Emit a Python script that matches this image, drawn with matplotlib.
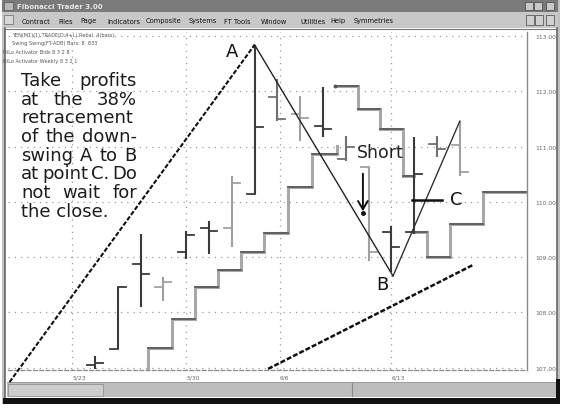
import matplotlib
matplotlib.use('Agg')
import matplotlib.pyplot as plt
from matplotlib.patches import Rectangle
import numpy as np

# ---------------- data ----------------
bar_idx = list(range(17))
opens  = [107.05, 107.34, 108.88, 108.46, 109.09, 109.53, 109.53, 110.14, 111.90, 111.59, 111.37, 110.78, 110.63, 109.46, 109.46, 111.05, 111.03]
highs  = [107.21, 108.46, 109.42, 108.64, 109.47, 109.65, 110.47, 112.84, 112.22, 111.92, 112.08, 111.19, 110.63, 109.56, 111.17, 111.19, 111.46]
lows   = [106.98, 107.34, 108.10, 108.21, 108.97, 109.06, 109.18, 110.14, 111.46, 111.10, 111.17, 110.74, 108.93, 108.73, 109.42, 110.81, 110.47]
closes = [107.09, 108.46, 108.70, 108.55, 109.40, 109.47, 110.34, 111.35, 111.50, 111.52, 111.32, 110.99, 109.09, 109.18, 110.50, 110.96, 110.54]
shade  = ['d', 'd', 'd', 'g', 'd', 'd', 'g', 'd', 'm', 'g', 'd', 'm', 'g', 'd', 'd', 'm', 'g']

# HiLo activator step lines (switch positions in bar units, levels)
long1_x = [2.32, 3.38, 4.39, 5.39, 6.40, 7.41, 8.46, 9.52, 10.61]
long1_y = [107.36, 107.88, 108.46, 108.77, 109.09, 109.44, 110.27, 110.87, 111.01]
short_x = [10.53, 11.54, 12.50, 13.50, 14.00]
short_y = [112.10, 111.68, 111.32, 110.47]
long2_x = [13.90, 14.56, 15.57, 17.00, 18.95]
long2_y = [109.46, 109.00, 109.60, 110.18]

# swing lines
swing_up   = ([-3.75, 7.0], [106.74, 112.84])
swing_AB   = ([7.0, 13.07], [112.84, 108.66])
swing_BC   = ([13.07, 16.0], [108.66, 111.46])
trend_line = ([7.59, 16.58], [106.98, 108.86])

x_ticks = [-1, 4, 8.1, 13]
x_labels = ['5/23', '5/30', '6/6', '6/13']
y_ticks = [107, 108, 109, 110, 111, 112, 113]

note_lines = ["Take profits", "at the 38%", "retracement", "of the down-",
              "swing A to B", "at point C. Do", "not wait for", "the close."]
header_lines = ["YEN(M1)(1) TRADE(D:4+L) Rebal. 4(bars)",
                "Swing Swing(FT-ADB) Bars: 8  833",
                "HiLo Activator Bids 8 3 2 8",
                "HiLo Activator Weekly 8 3 2 1"]
menu_items = [("Contract", 22), ("Files", 58), ("Page", 80), ("Indicators", 107),
              ("Composite", 146), ("Systems", 189), ("FT Tools", 224), ("Window", 261),
              ("Utilities", 300), ("Help", 330), ("Symmetries", 354)]

# ---------------- figure ----------------
W, H = 562, 410
fig = plt.figure(figsize=(W / 100, H / 100), dpi=100, facecolor='white')
bg = fig.add_axes([0, 0, 1, 1])
bg.set_xlim(0, W)
bg.set_ylim(H, 0)
bg.axis('off')

def rect(x, y, w, h, fc, ec='none', lw=0, z=1):
    bg.add_patch(Rectangle((x, y), w, h, facecolor=fc, edgecolor=ec, lw=lw, zorder=z))

# window chrome
rect(2, 0, 558, 405, '#c0c0c0')
rect(2, 1, 556, 12, '#7a7a7a', z=2)
rect(4, 3, 9, 8, '#b8b8b8', ec='#555', lw=0.5, z=3)
bg.text(17, 7.3, "Fibonacci Trader 3.00", fontsize=5, color='#e8e8e8', fontweight='bold', va='center', zorder=4)
for bx in (525, 534, 546):
    rect(bx, 2.5, 8, 8.5, '#c8c8c8', ec='#444', lw=0.5, z=3)
rect(2, 13, 556, 16, '#c8c8c8', z=2)
rect(4, 15.5, 9, 9, '#d8d8d8', ec='#666', lw=0.5, z=3)
for name, mx in menu_items:
    bg.text(mx, 21.5, name, fontsize=4.8, color='#111', va='center', zorder=4)
for bx in (526, 535, 546):
    rect(bx, 16, 8, 9.5, '#d0d0d0', ec='#444', lw=0.5, z=3)

# chart window
rect(5, 29, 552, 370, 'white', z=2)
bg.plot([5, 5], [29, 399], color='#666', lw=1.2, zorder=3)
bg.plot([5, 557], [29.5, 29.5], color='#777', lw=0.8, zorder=3)
bg.plot([557, 557], [29, 399], color='#666', lw=1.2, zorder=3)
# scrollbar
rect(7, 383, 549, 15, '#bdbdbd', z=3)
rect(8, 384.5, 95, 12, '#cdcdcd', ec='#8a8a8a', lw=0.5, z=4)
bg.plot([352, 352], [384, 397], color='#888', lw=0.8, zorder=4)
bg.plot([7, 556], [383, 383], color='#999', lw=0.6, zorder=4)
rect(3, 398.5, 557, 6.5, '#111', z=5)
rect(556, 380, 4, 25, '#111', z=5)

# header texts
for k, s in enumerate(header_lines):
    bg.text(12 if k < 2 else 3, 35 + 9 * k, s, fontsize=3.6, color='#555', va='center', zorder=6)

# ---------------- main chart axes ----------------
L, R, T, B = 8, 527, 33, 371
ax = fig.add_axes([L / W, (H - B) / H, (R - L) / W, (B - T) / H])
ax.set_facecolor('none')
ax.set_zorder(5)
ax.set_xlim(-3.816, 18.947)
ax.set_ylim(106.96, 113.072)

ax.set_xticks(x_ticks)
ax.set_xticklabels(x_labels)
ax.set_yticks(y_ticks)
ax.set_yticklabels(['%.2f' % v for v in y_ticks])
ax.yaxis.tick_right()
ax.tick_params(axis='both', length=0, labelsize=4.3, labelcolor='#666')
ax.tick_params(axis='y', pad=6)
ax.tick_params(axis='x', pad=3)
for lab in ax.get_xticklabels():
    lab.set_ha('left')
ax.grid(True, color='#9a9a9a', linestyle=(0, (1, 4)), lw=0.9)
ax.set_axisbelow(True)
for sp in ('top', 'left'):
    ax.spines[sp].set_visible(False)
ax.spines['right'].set_color('#8a8a8a')
ax.spines['right'].set_linewidth(1.0)
ax.spines['bottom'].set_color('#8a8a8a')
ax.spines['bottom'].set_linestyle((0, (3, 2)))
ax.spines['bottom'].set_linewidth(0.9)

colors = {'d': '#3a3a3a', 'g': '#a0a0a0', 'm': '#707070'}
tick = 0.35
for i, o, h, l, c, s in zip(bar_idx, opens, highs, lows, closes, shade):
    col = colors[s]
    ax.plot([i, i], [l, h], color=col, lw=1.5, solid_capstyle='butt', zorder=3)
    ax.plot([i - tick, i], [o, o], color=col, lw=1.3, zorder=3)
    ax.plot([i, i + tick], [c, c], color=col, lw=1.3, zorder=3)

def step_path(xs, ys, start_bottom=None):
    px, py = [], []
    if start_bottom is not None:
        px.append(xs[0]); py.append(start_bottom)
    for k, lev in enumerate(ys):
        px += [xs[k], xs[k + 1]]
        py += [lev, lev]
    return px, py

def draw_steps(xs, ys, start_bottom=None, tail=None):
    px, py = step_path(xs, ys, start_bottom)
    if tail is not None:
        px.append(px[-1]); py.append(tail)
    ax.plot(px, py, color='#a8a8a8', lw=2.2, zorder=2, solid_joinstyle='miter')
    for k, lev in enumerate(ys):
        ax.plot([xs[k], xs[k + 1]], [lev, lev], color='#555', lw=1.2, zorder=2.5)

# lower long stop: last listed level is the final up-tick
draw_steps(long1_x[:-1] + [long1_x[-1]], long1_y[:-1], start_bottom=106.96, tail=long1_y[-1])
draw_steps(short_x, short_y)
ax.plot([short_x[0]], [short_y[0]], marker='o', ms=1.8, color='#555', zorder=3)
draw_steps(long2_x, long2_y)

# swing lines
ax.plot(*swing_up, color='#111', lw=1.5, linestyle=(0, (2.2, 0.9)), clip_on=False, zorder=4)
ax.plot(*swing_AB, color='#222', lw=1.0, zorder=4)
ax.plot(*swing_BC, color='#333', lw=1.0, zorder=4)
ax.plot(*trend_line, color='#111', lw=1.8, linestyle=(0, (2.0, 0.8)), zorder=4)

# annotations
ax.text(6.0, 112.73, "A", fontsize=13, color='#111', ha='center', va='center', zorder=6)
ax.text(12.59, 108.52, "B", fontsize=13, color='#111', ha='center', va='center', zorder=6)
ax.text(15.57, 110.05, "C", fontsize=13, color='#111', ha='left', va='center', zorder=6)
ax.text(11.49, 110.90, "Short", fontsize=12.5, color='#222', ha='left', va='center', zorder=6)
ax.plot([13.9, 15.22], [110.03, 110.03], color='#111', lw=1.8, zorder=5)
ax.annotate('', xy=(11.75, 109.78), xytext=(11.75, 110.56),
            arrowprops=dict(arrowstyle='->,head_length=0.6,head_width=0.35', color='#111', lw=1.4),
            zorder=6)
ax.plot([11.75], [109.80], marker='o', ms=2.5, color='#111', zorder=6)

# justified note text
fig.canvas.draw()
renderer = fig.canvas.get_renderer()
left, right = 21, 137
for k, line in enumerate(note_lines):
    y = 86 + 18.7 * k
    words = line.split()
    kw = dict(fontsize=13, color='#1c1c1c', va='baseline', ha='left', zorder=7)
    if k == len(note_lines) - 1 or len(words) == 1:
        bg.text(left, y, line, **kw)
        continue
    texts = [bg.text(0, y, w_, **kw) for w_ in words]
    widths = [t.get_window_extent(renderer).width for t in texts]
    gap = (right - left - sum(widths)) / (len(words) - 1)
    xx = left
    for t, wd in zip(texts, widths):
        t.set_x(xx)
        xx += wd + gap

fig.savefig('out.png', dpi=100, facecolor='white')
